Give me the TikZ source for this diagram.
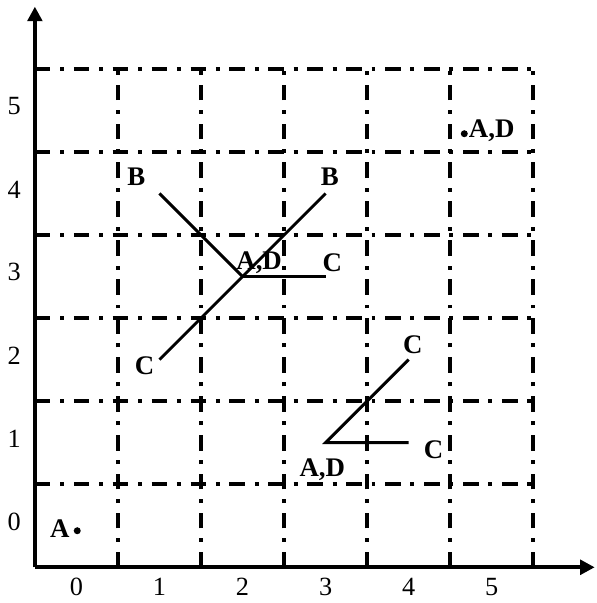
\documentclass[tikz,border=0pt]{standalone}
\usepackage{fontspec}
\setmainfont{Liberation Serif}
\usetikzlibrary{arrows.meta}
\begin{document}
\begin{tikzpicture}[x=1.5cm,y=1.5cm,
  gridline/.style={line width=1.8pt, dash pattern=on 8pt off 5pt on 2pt off 5pt},
  axisline/.style={line width=2pt,-{Triangle[length=7.5pt,width=7.5pt]}},
  figline/.style={line width=1.5pt},
  lbl/.style={font=\bfseries\fontsize{13.8}{14}\selectfont, inner sep=0pt},
  num/.style={font=\fontsize{13.5}{14}\selectfont, inner sep=0pt},
  dotmark/.style={circle, fill=black, inner sep=0pt, minimum size=3.6pt}]
\useasboundingbox (-0.92,-0.93) rectangle (6.26,6.33);
% grid
\foreach \k in {0.5,1.5,2.5,3.5,4.5,5.5}{
  \draw[gridline] (-0.5,\k) -- (5.5,\k);
  \draw[gridline] (\k,-0.5) -- (\k,5.5);
}
% axes
\coordinate (O) at (-0.5,-0.5);
\coordinate (Ytip) at (-0.5,6.25);
\coordinate (Xtip) at (6.24,-0.5);
\draw[axisline] (O) -- (Ytip);
\draw[axisline] (O) -- (Xtip);
% axis numbers
\foreach \k in {0,...,5}{
  \node[num] (xl\k) at (\k,-0.74) {\k};
  \node[num] (yl\k) at (-0.75,\k+0.05) {\k};
}
% first figure
\coordinate (P1) at (2,3);
\coordinate (B1) at (1,4);
\coordinate (B2) at (3,4);
\coordinate (C1) at (1,2);
\coordinate (C2) at (3,3);
\draw[figline] (B1) -- (P1);
\draw[figline] (C1) -- (B2);
\draw[figline] (P1) -- (C2);
\node[lbl] (lB1) at (0.72,4.2) {B};
\node[lbl] (lB2) at (3.05,4.2) {B};
\node[lbl] (lP1) at (2.2,3.17) {A,D};
\node[lbl] (lC2) at (3.08,3.17) {C};
\node[lbl] (lC1) at (0.82,1.93) {C};
% second figure
\coordinate (P2) at (3,1);
\coordinate (C3) at (4,2);
\coordinate (C4) at (4,1);
\draw[figline] (C3) -- (P2) -- (C4);
\node[lbl] (lC3) at (4.05,2.18) {C};
\node[lbl] (lC4) at (4.3,0.92) {C};
\node[lbl] (lP2) at (2.96,0.67) {A,D};
% isolated points
\node[dotmark] (d1) at (4.67,4.72) {};
\node[lbl] (lAD) at (5.0,4.76) {A,D};
\node[dotmark] (d0) at (0.01,-0.06) {};
\node[lbl] (lA) at (-0.2,-0.03) {A};
\end{tikzpicture}
\end{document}
